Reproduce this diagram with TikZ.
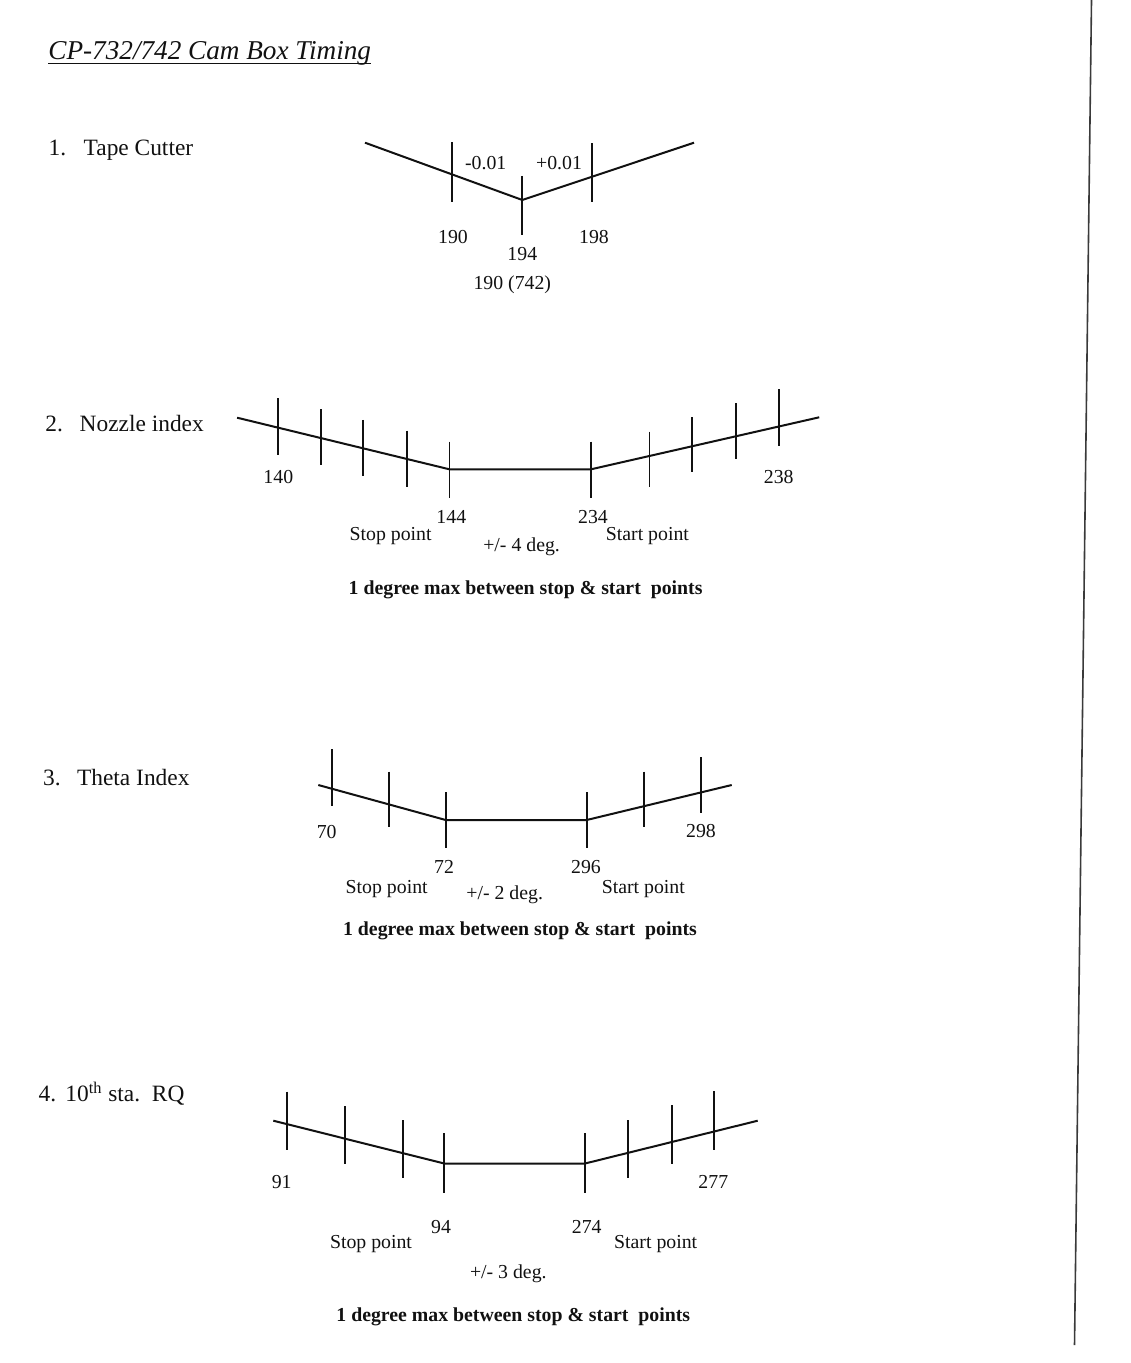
\documentclass[tikz,border=0pt]{standalone}
\usepackage{fontspec}
\setmainfont{Liberation Serif}
\usepackage{tikz}
\usetikzlibrary{calc}
\definecolor{scanink}{HTML}{111111}
\definecolor{edgegrey}{HTML}{3A3A3A}

\begin{document}
\begin{tikzpicture}[x=0.5pt,y=-0.5pt,
    camline/.style={scanink,line width=1pt,line join=round},
    tickline/.style={scanink,line width=0.9pt},
    numlab/.style={font=\fontsize{9.9}{12}\selectfont,text=scanink,anchor=base,inner sep=0pt},
    notelab/.style={font=\fontsize{9.9}{12}\selectfont\bfseries,text=scanink,anchor=base,inner sep=0pt},
    sectlab/.style={font=\fontsize{11.7}{14}\selectfont,text=scanink,anchor=base west,inner sep=0pt}]
  \useasboundingbox (0,0) rectangle (1130,1363);
  % page edge of the scan
  \draw[edgegrey,line width=0.8pt] (1091.5,0) -- (1074.5,1345);

  % heading
  \node[font=\fontsize{13.6}{16}\selectfont\itshape,text=scanink,anchor=base west,inner sep=0pt] (title) at (48,60) {CP-732/742 Cam Box Timing};
  \draw[scanink,line width=0.7pt] ($(title.base west)+(0,3.5)$) -- ($(title.base east)+(0,3.5)$);

  % 1. tape cutter
  \node[sectlab] (tapenum) at (48.3,156) {1.};
  \node[sectlab] (tapename) at (83.3,156) {Tape Cutter};
  \draw[camline] (365,142.7) -- (522.3,200) -- (694,142.7);
  \foreach \x/\a/\b in {451.7/142.3/201.7, 522.3/176/235, 592.3/143.3/201.7}
    \draw[tickline] (\x,\a) -- (\x,\b);
  \foreach \x/\y/\lab [count=\i] in {485.7/170/-0.01, 559/170/+0.01, 453/243.5/190, 522.3/261/194, 594/244/198, 512.3/289.5/190 (742)}
    \node[numlab] (tape\i) at (\x,\y) {\lab};

  % 2. nozzle index
  \node[sectlab] (nozzlenum) at (45,431.7) {2.};
  \node[sectlab] (nozzlename) at (79.3,431.7) {Nozzle index};
  \draw[camline] (237.1,417.7) -- (449.4,469.3) -- (591,469.3) -- (819.2,417.3);
  \foreach \x/\a/\b in {278.3/398.3/455, 321.2/409.3/465, 362.9/420/475.7, 407.3/430.7/487.3, 449.4/441.7/498.3,
                        591/441.7/498.3, 649.4/431.7/487.3, 692.2/417.3/472.3, 735.9/403.3/459.3, 778.7/389.3/446}
    \draw[tickline] (\x,\a) -- (\x,\b);
  \foreach \x/\y/\lab [count=\i] in {278.3/483.5/140, 778.7/483.5/238, 451.3/523/144, 593/523/234,
                                     390.6/540/Stop point, 647.4/540/Start point, 521.6/551/{+/- 4 deg.}}
    \node[numlab] (nozzle\i) at (\x,\y) {\lab};
  \node[notelab] (nozzlenote) at (525.6,594) {1 degree max between stop \& start\ \ points};

  % 3. theta index
  \node[sectlab] (thetanum) at (42.7,785) {3.};
  \node[sectlab] (thetaname) at (76.7,785) {Theta Index};
  \draw[camline] (318.3,785) -- (445.7,820) -- (586.7,820) -- (731.7,785);
  \foreach \x/\a/\b in {331.7/749.3/805.7, 389/771.7/826.7, 445.7/792.3/848.3,
                        586.7/792.3/848.3, 644.3/771.7/826.7, 701/757.3/812.7}
    \draw[tickline] (\x,\a) -- (\x,\b);
  \foreach \x/\y/\lab [count=\i] in {326.7/838.5/70, 701/837/298, 444/873/72, 586/873/296,
                                     386.7/893/Stop point, 643.3/893/Start point, 504.7/899.5/{+/- 2 deg.}}
    \node[numlab] (theta\i) at (\x,\y) {\lab};
  \node[notelab] (thetanote) at (520,935) {1 degree max between stop \& start\ \ points};

  % 4. 10th station RQ
  \node[sectlab] (rqnum) at (38.3,1101.7) {4.};
  \node[sectlab] (rqname) at (65,1101.7) {10\textsuperscript{th} sta.\ \ RQ};
  \draw[camline] (273.3,1120.7) -- (444.3,1163.5) -- (585,1163.5) -- (757.7,1120.7);
  \foreach \x/\a/\b in {287.3/1091.7/1150, 345/1106/1164, 402.7/1120/1178.3, 444.3/1133.3/1192.7,
                        585/1133.3/1192.7, 628.3/1120/1178.3, 672.3/1105/1164, 714/1091/1150}
    \draw[tickline] (\x,\a) -- (\x,\b);
  \foreach \x/\y/\lab [count=\i] in {281.7/1188.5/91, 713.3/1188.5/277, 441/1233.5/94, 586.7/1233.5/274,
                                     371/1248.5/Stop point, 655.7/1248.5/Start point, 508.3/1278/{+/- 3 deg.}}
    \node[numlab] (rq\i) at (\x,\y) {\lab};
  \node[notelab] (rqnote) at (513.3,1321) {1 degree max between stop \& start\ \ points};
\end{tikzpicture}
\end{document}
